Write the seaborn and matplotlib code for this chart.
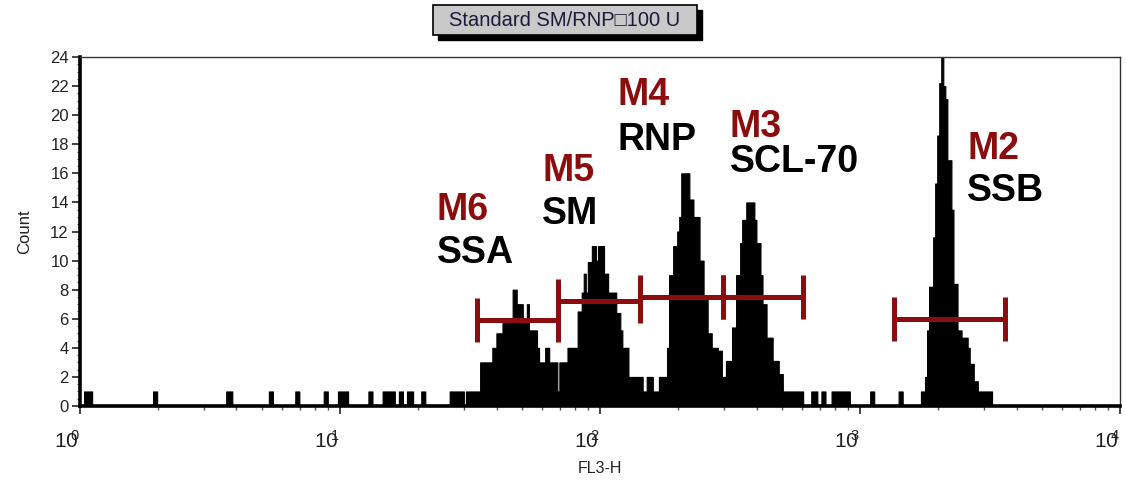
import numpy as np
import pandas as pd
import matplotlib
matplotlib.use("Agg")
import matplotlib.pyplot as plt
import matplotlib.transforms as mtransforms
from matplotlib.patches import Rectangle
from matplotlib.ticker import FixedLocator, LogLocator, MultipleLocator, NullFormatter
import seaborn as sns

# ---- data ------------------------------------------------------------
N_CHANNELS = 512          # log channels over 4 decades

# histogram as runs: count holds from run_start up to the next run_start
run_start = [0, 2, 6, 36, 38, 72, 75, 93, 95, 106, 108, 120, 122, 127, 132,
             142, 144, 149, 155, 157, 159, 161, 164, 168, 170, 182, 189, 190,
             197, 203, 205, 208, 213, 215, 218, 220, 221, 225, 226, 229, 231,
             235, 236, 240, 245, 247, 248, 249, 250, 252, 254, 255, 258, 260,
             264, 266, 267, 270, 277, 279, 282, 285, 289, 290, 292, 294, 295,
             296, 300, 302, 305, 307, 309, 311, 314, 316, 318, 321, 323, 325,
             326, 328, 332, 333, 335, 336, 338, 341, 344, 346, 356, 360, 363,
             365, 367, 370, 379, 389, 391, 403, 405, 414, 416, 417, 418, 420,
             421, 422, 423, 424, 425, 426, 427, 429, 430, 432, 434, 437, 438,
             440, 442, 449]
run_count = [0, 1, 0, 1, 0, 1, 0, 1, 0, 1, 0, 1, 0, 1, 0,
             1, 0, 1, 0, 1, 0, 1, 0, 1, 0, 1, 0, 1,
             3, 4, 5, 5.7, 8, 7, 5.7, 7, 5.2, 4, 3, 4, 3,
             1, 3, 4, 6.5, 7.8, 9.1, 7.8, 9.9, 11, 10, 11, 9.1, 7.8,
             6.4, 5.2, 4, 2, 1, 2, 1, 2, 4, 9, 11, 12, 13,
             16, 14.2, 13, 10, 7.3, 5, 4, 3.8, 2, 3.1, 5.4, 9, 11.2,
             12.8, 14, 12.8, 11.2, 9, 7, 4.7, 3.1, 2.2, 1, 0, 1, 0,
             1, 0, 1, 0, 1, 0, 1, 0, 1, 2, 5.2, 8.2, 11.6,
             15.3, 18.6, 22.2, 24, 22, 21.1, 16.9, 13.5, 8.4, 5.2, 4.7, 4.0, 2.9,
             1.7, 1, 0]

# markers (gates) on FL3-H
marker_names = ["M2", "M3", "M4", "M5", "M6"]
antigens = ["SSB", "SCL-70", "RNP", "SM", "SSA"]
marker_lo = [1355, 298, 142, 69, 33.6]
marker_hi = [3612, 602, 298, 142, 69]
marker_level = [6.0, 7.5, 7.5, 7.2, 5.9]

decades = [1, 10, 100, 1000, 10000]
title = "Standard SM/RNP\u25a1100 U"

# ---- build histogram -------------------------------------------------
bounds = run_start + [N_CHANNELS]
counts = np.repeat(run_count, np.diff(bounds))
edges = 10 ** np.linspace(0, 4, N_CHANNELS + 1)
centers = np.sqrt(edges[:-1] * edges[1:])
df = pd.DataFrame({"FL3-H": centers, "Count": counts})

sns.set_style("white")
plt.rcParams["font.family"] = ["Liberation Sans", "DejaVu Sans"]
plt.rcParams["mathtext.default"] = "regular"

DARK_RED = "#8b0d0d"

fig = plt.figure(figsize=(11.26, 4.86), dpi=100)
ax = fig.add_axes([0.071, 0.1646, 0.9237, 0.7181])

# log_scale -> bins/binrange are in decades
sns.histplot(data=df, x="FL3-H", weights="Count", log_scale=True,
             bins=N_CHANNELS, binrange=(0, 4),
             element="step", fill=True, color="black", alpha=1,
             linewidth=0.8, ax=ax)
ax.set_xlim(1, 1e4)
ax.set_ylim(0, 24)

# markers with end ticks
for lo, hi, lvl in zip(marker_lo, marker_hi, marker_level):
    ax.plot([lo, hi], [lvl, lvl], color=DARK_RED, lw=3.6,
            solid_capstyle="butt", zorder=5)
    ax.vlines([lo, hi], lvl - 1.5, lvl + 1.5, color=DARK_RED, lw=3.6,
              zorder=5)

# marker / antigen labels (placement only)
label_x = [2580, 316, 117, 60, 23.6]
label_m_y = [17.0, 18.5, 20.7, 15.5, 12.8]
label_ag_y = [14.1, 16.1, 17.6, 12.55, 9.8]
for name, ag, lx, my, ay in zip(marker_names, antigens, label_x,
                                label_m_y, label_ag_y):
    ax.text(lx, my, name, color=DARK_RED, fontsize=27, fontweight="bold",
            va="baseline", ha="left")
    ax.text(lx, ay, ag, color="black", fontsize=27, fontweight="bold",
            va="baseline", ha="left")

# axes styling; exponent tucked over the last digit like the instrument print
ax.xaxis.set_major_locator(FixedLocator(decades))
ax.set_xticklabels([r"$10^{\!\!\!%d}$" % k for k in range(len(decades))])
shift = mtransforms.ScaledTranslation(2 / 72, 0, fig.dpi_scale_trans)
for lbl in ax.get_xticklabels():
    lbl.set_horizontalalignment("right")
    lbl.set_transform(lbl.get_transform() + shift)
ax.xaxis.set_minor_locator(LogLocator(base=10, subs=np.arange(2, 10)))
ax.xaxis.set_minor_formatter(NullFormatter())
ax.yaxis.set_major_locator(MultipleLocator(2))
ax.yaxis.set_minor_locator(MultipleLocator(0.5))
ax.tick_params(axis="x", which="major", direction="out", length=6, width=1.2,
               labelsize=15, pad=11, bottom=True, colors="#222222")
ax.tick_params(axis="x", which="minor", direction="out", length=3, width=1,
               bottom=True, colors="#555555")
ax.tick_params(axis="y", which="major", direction="out", length=6, width=1.2,
               labelsize=12, pad=2, left=True, colors="#222222")
ax.tick_params(axis="y", which="minor", direction="out", length=2, width=0.8,
               left=True, colors="#555555")

for side in ["left", "bottom"]:
    ax.spines[side].set_linewidth(2.6)
    ax.spines[side].set_color("black")
for side in ["top", "right"]:
    ax.spines[side].set_linewidth(1.0)
    ax.spines[side].set_color("#333333")
    ax.spines[side].set_visible(True)

ax.set_xlabel("FL3-H", fontsize=11.5, labelpad=7, color="#222222")
ax.set_ylabel("Count", fontsize=12, labelpad=13, color="#222222")

# title box with drop shadow
W, H = 1126, 486
bx, by, bw, bh = 433 / W, 1 - 35 / H, 264 / W, 30 / H
fig.add_artist(Rectangle((bx + 5 / W, by - 5 / H), bw, bh,
                         transform=fig.transFigure, fc="black", ec="black"))
fig.add_artist(Rectangle((bx, by), bw, bh, transform=fig.transFigure,
                         fc="#c9c9c9", ec="black", lw=1.2))
fig.text(565 / W, 1 - 21 / H, title, ha="center", va="center",
         fontsize=14.5, color="#1a1a3a")

fig.savefig("out.png", dpi=100)
